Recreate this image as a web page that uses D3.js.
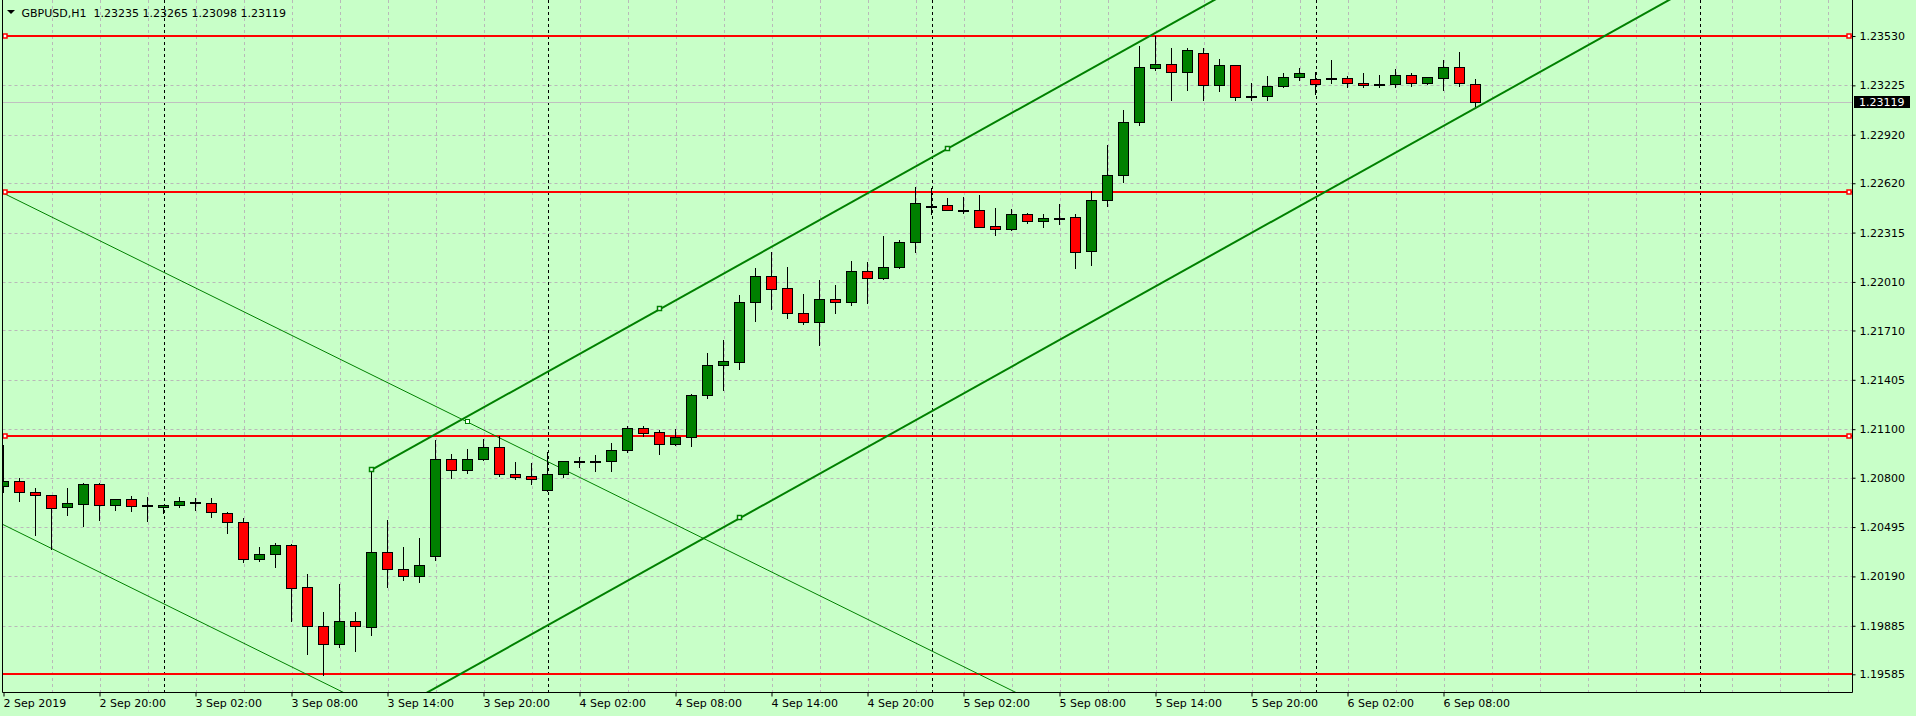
<!DOCTYPE html>
<html>
<head>
<meta charset="utf-8">
<script src="https://cdn.jsdelivr.net/npm/d3@7"></script>
<style>
  html, body { margin: 0; padding: 0; background: #c8ffc8; }
  svg { display: block; }
  text { font-family: "DejaVu Sans", sans-serif; font-size: 11px; fill: #000; }
</style>
</head>
<body>
<svg id="chart" width="1916" height="716"></svg>
<script>
// data
let titleText = "GBPUSD,H1  1.23235 1.23265 1.23098 1.23119"

let opens = [1.20747, 1.20778, 1.20710, 1.20691, 1.20617, 1.20636, 1.20759, 1.20630, 1.20667, 1.20631,
  1.20617, 1.20630, 1.20648, 1.20642, 1.20580, 1.20524, 1.20296, 1.20327, 1.20382, 1.20123,
  1.19882, 1.19770, 1.19913, 1.19876, 1.20339, 1.20234, 1.20191, 1.20314, 1.20914, 1.20846,
  1.20914, 1.20988, 1.20821, 1.20809, 1.20722, 1.20821, 1.20901, 1.20901, 1.20901, 1.20969,
  1.21105, 1.21081, 1.21007, 1.21050, 1.21309, 1.21495, 1.21513, 1.21884, 1.22045, 1.21971,
  1.21816, 1.21761, 1.21903, 1.21884, 1.22076, 1.22033, 1.22101, 1.22255, 1.22481, 1.22484,
  1.22455, 1.22453, 1.22353, 1.22339, 1.22428, 1.22389, 1.22405, 1.22410, 1.22203, 1.22515,
  1.22669, 1.22997, 1.23330, 1.23355, 1.23306, 1.23423, 1.23225, 1.23349, 1.23157, 1.23157,
  1.23219, 1.23275, 1.23262, 1.23269, 1.23269, 1.23238, 1.23232, 1.23232, 1.23287, 1.23238,
  1.23269, 1.23337, 1.23235]
let highs = [1.21002, 1.20796, 1.20735, 1.20693, 1.20735, 1.20766, 1.20766, 1.20669, 1.20685, 1.20679,
  1.20633, 1.20679, 1.20673, 1.20673, 1.20586, 1.20549, 1.20370, 1.20395, 1.20389, 1.20203,
  1.19968, 1.20141, 1.19968, 1.20848, 1.20537, 1.20370, 1.20426, 1.21031, 1.20947, 1.20978,
  1.21037, 1.21058, 1.20897, 1.20891, 1.20959, 1.20903, 1.20926, 1.20940, 1.21015, 1.21118,
  1.21118, 1.21093, 1.21099, 1.21316, 1.21569, 1.21651, 1.21929, 1.22094, 1.22193, 1.22101,
  1.21934, 1.22020, 1.21989, 1.22138, 1.22131, 1.22292, 1.22267, 1.22595, 1.22589, 1.22527,
  1.22533, 1.22545, 1.22465, 1.22459, 1.22434, 1.22428, 1.22490, 1.22428, 1.22570, 1.22855,
  1.23071, 1.23466, 1.23530, 1.23454, 1.23454, 1.23454, 1.23386, 1.23351, 1.23238, 1.23281,
  1.23300, 1.23330, 1.23308, 1.23382, 1.23281, 1.23301, 1.23289, 1.23326, 1.23300, 1.23276,
  1.23380, 1.23431, 1.23265]
let lows = [1.20714, 1.20658, 1.20446, 1.20358, 1.20571, 1.20503, 1.20541, 1.20602, 1.20596, 1.20534,
  1.20584, 1.20617, 1.20602, 1.20559, 1.20460, 1.20281, 1.20287, 1.20250, 1.19916, 1.19709,
  1.19581, 1.19752, 1.19727, 1.19826, 1.20126, 1.20166, 1.20157, 1.20290, 1.20800, 1.20827,
  1.20912, 1.20812, 1.20794, 1.20763, 1.20720, 1.20806, 1.20868, 1.20843, 1.20843, 1.20957,
  1.21056, 1.20945, 1.21005, 1.20994, 1.21291, 1.21344, 1.21474, 1.21770, 1.21845, 1.21785,
  1.21748, 1.21618, 1.21816, 1.21866, 1.21882, 1.22031, 1.22094, 1.22197, 1.22428, 1.22454,
  1.22438, 1.22348, 1.22302, 1.22333, 1.22376, 1.22351, 1.22368, 1.22098, 1.22117, 1.22481,
  1.22630, 1.22982, 1.23318, 1.23136, 1.23198, 1.23136, 1.23192, 1.23136, 1.23136, 1.23136,
  1.23217, 1.23261, 1.23170, 1.23241, 1.23213, 1.23213, 1.23213, 1.23213, 1.23219, 1.23232,
  1.23198, 1.23219, 1.23098]
let closes = [1.20778, 1.20710, 1.20691, 1.20611, 1.20642, 1.20759, 1.20630, 1.20667, 1.20623, 1.20631,
  1.20630, 1.20654, 1.20648, 1.20586, 1.20524, 1.20296, 1.20327, 1.20382, 1.20117, 1.19882,
  1.19770, 1.19913, 1.19882, 1.20339, 1.20234, 1.20191, 1.20259, 1.20914, 1.20846, 1.20914,
  1.20988, 1.20821, 1.20806, 1.20794, 1.20821, 1.20901, 1.20901, 1.20901, 1.20969, 1.21105,
  1.21075, 1.21007, 1.21050, 1.21309, 1.21495, 1.21520, 1.21884, 1.22045, 1.21964, 1.21816,
  1.21761, 1.21903, 1.21884, 1.22076, 1.22033, 1.22101, 1.22255, 1.22496, 1.22481, 1.22456,
  1.22455, 1.22351, 1.22339, 1.22428, 1.22389, 1.22403, 1.22405, 1.22197, 1.22515, 1.22669,
  1.22997, 1.23337, 1.23355, 1.23306, 1.23442, 1.23225, 1.23349, 1.23151, 1.23157, 1.23219,
  1.23275, 1.23300, 1.23232, 1.23269, 1.23238, 1.23225, 1.23232, 1.23287, 1.23238, 1.23275,
  1.23337, 1.23238, 1.23119]

let timeLabels = ["2 Sep 2019", "2 Sep 20:00", "3 Sep 02:00", "3 Sep 08:00", "3 Sep 14:00", "3 Sep 20:00",
  "4 Sep 02:00", "4 Sep 08:00", "4 Sep 14:00", "4 Sep 20:00", "5 Sep 02:00", "5 Sep 08:00",
  "5 Sep 14:00", "5 Sep 20:00", "6 Sep 02:00", "6 Sep 08:00"]
let timeTickBars = [0, 6, 12, 18, 24, 30, 36, 42, 48, 54, 60, 66, 72, 78, 84, 90]
let daySeparatorBars = [10, 34, 58, 82, 106]
let priceTicks = [1.23530, 1.23225, 1.22920, 1.22620, 1.22315, 1.22010, 1.21710,
  1.21405, 1.21100, 1.20800, 1.20495, 1.20190, 1.19885, 1.19585]

let levelPrices = [1.23530, 1.22564, 1.21058, 1.19585]
let levelHasMarker = [true, true, true, false]
let bidPrice = 1.23119

// equidistant channel: two points on the main line + one point on the parallel
let channelMain = [[23, 1.20848], [59, 1.22833]]
let channelThird = [46, 1.20549]
let channelMarkers = [[23, 1.20848], [41, 1.21841], [59, 1.22833], [46, 1.20549]]
// thin descending lines
let thinUpper = [[0, 1.22558], [29, 1.21144]]
let thinLowerStart = [0, 1.20509]

// layout
let plotLeft = 2.5, plotRight = 1852.5, plotTop = 0, plotBottom = 692.5
let green = '#008000', red = '#ff0000'

let svg = d3.select('#chart')

let x = d3.scaleLinear().domain([0, 1]).range([3.5, 19.5])
let y = d3.scaleLinear().domain([1.19585, 1.23530]).range([674.3, 36])
let crisp = v => Math.round(v) + 0.5

svg.append('clipPath').attr('id', 'plot-clip')
  .append('rect')
  .attr('x', plotLeft + 0.5).attr('y', plotTop)
  .attr('width', plotRight - plotLeft - 1).attr('height', plotBottom - plotTop - 0.5)

let plot = svg.append('g').attr('clip-path', 'url(#plot-clip)')

// grid
let gridBars = d3.range(3, 116, 3)
plot.selectAll('.vgrid').data(gridBars).enter().append('line')
  .attr('x1', d => crisp(x(d))).attr('x2', d => crisp(x(d)))
  .attr('y1', plotTop).attr('y2', plotBottom)
  .style('stroke', '#b9b9b9').style('stroke-dasharray', '3,3')

plot.selectAll('.hgrid').data(priceTicks).enter().append('line')
  .attr('x1', plotLeft).attr('x2', plotRight)
  .attr('y1', d => crisp(y(d))).attr('y2', d => crisp(y(d)))
  .style('stroke', '#b9b9b9').style('stroke-dasharray', '3,3')

plot.selectAll('.daysep').data(daySeparatorBars).enter().append('line')
  .attr('x1', d => crisp(x(d))).attr('x2', d => crisp(x(d)))
  .attr('y1', plotTop).attr('y2', plotBottom)
  .style('stroke', '#000').style('stroke-dasharray', '3,3')

// bid line
plot.append('line')
  .attr('x1', plotLeft).attr('x2', plotRight)
  .attr('y1', crisp(y(bidPrice))).attr('y2', crisp(y(bidPrice)))
  .style('stroke', '#c0c0c0')

// horizontal levels
plot.selectAll('.level').data(levelPrices).enter().append('line')
  .attr('x1', plotLeft).attr('x2', plotRight)
  .attr('y1', d => Math.round(y(d))).attr('y2', d => Math.round(y(d)))
  .style('stroke', red).style('stroke-width', 2)

// trend lines, extended along their slope
let lineAt = (p1, p2, i) => p1[1] + (p2[1] - p1[1]) * (i - p1[0]) / (p2[0] - p1[0])
let path = d3.line().x(d => x(d[0])).y(d => y(d[1]))

let chSlope = (channelMain[1][1] - channelMain[0][1]) / (channelMain[1][0] - channelMain[0][0])
let chEnd = 140
let upperCh = [channelMain[0], [chEnd, lineAt(channelMain[0], channelMain[1], chEnd)]]
let lowerCh = [[channelMain[0][0], channelThird[1] + chSlope * (channelMain[0][0] - channelThird[0])],
  [chEnd, channelThird[1] + chSlope * (chEnd - channelThird[0])]]

let thinSlope = (thinUpper[1][1] - thinUpper[0][1]) / (thinUpper[1][0] - thinUpper[0][0])
let thinA = [[-2, lineAt(thinUpper[0], thinUpper[1], -2)], [80, lineAt(thinUpper[0], thinUpper[1], 80)]]
let thinB = [[-2, thinLowerStart[1] + thinSlope * -2], [40, thinLowerStart[1] + thinSlope * 40]]

;[thinA, thinB].forEach(l => {
  plot.append('path').attr('d', path(l))
    .style('fill', 'none').style('stroke', green).style('stroke-width', 1)
})
;[upperCh, lowerCh].forEach(l => {
  plot.append('path').attr('d', path(l))
    .style('fill', 'none').style('stroke', green).style('stroke-width', 2)
})

// candles
let bars = d3.range(opens.length)
let g = plot.append('g')

g.selectAll('.wick').data(bars).enter().append('line')
  .attr('x1', i => x(i)).attr('x2', i => x(i))
  .attr('y1', i => Math.round(y(highs[i]))).attr('y2', i => Math.round(y(lows[i])) + 1)
  .style('stroke', '#000')

g.selectAll('.body').data(bars).enter().append('rect')
  .attr('x', i => x(i) - 5)
  .attr('y', i => crisp(y(Math.max(opens[i], closes[i]))))
  .attr('width', 10)
  .attr('height', i => Math.max(1, Math.round(y(Math.min(opens[i], closes[i]))) - Math.round(y(Math.max(opens[i], closes[i])))))
  .style('fill', i => closes[i] > opens[i] ? green : (closes[i] < opens[i] ? red : '#000'))
  .style('stroke', '#000')

// markers
plot.selectAll('.chmark').data(channelMarkers).enter().append('rect')
  .attr('x', d => Math.round(x(d[0])) - 2.5).attr('y', d => Math.round(y(d[1])) - 2.5)
  .attr('width', 4).attr('height', 4)
  .style('fill', '#fff').style('stroke', green).style('stroke-width', 1.5)

plot.append('rect')
  .attr('x', Math.round(x(thinUpper[1][0])) - 2.5).attr('y', Math.round(y(thinUpper[1][1])) - 2.5)
  .attr('width', 4).attr('height', 4)
  .style('fill', '#fff').style('stroke', green).style('stroke-width', 1)

let markedLevels = levelPrices.filter((d, i) => levelHasMarker[i])
;[5, 1849].forEach(mx => {
  plot.selectAll(null).data(markedLevels).enter().append('rect')
    .attr('x', mx - 2).attr('y', d => Math.round(y(d)) - 2)
    .attr('width', 4).attr('height', 4)
    .style('fill', '#fff').style('stroke', red).style('stroke-width', 1.5)
})

// frame (left, bottom, right)
svg.append('path')
  .attr('d', `M${plotLeft},${plotTop}V${plotBottom}H${plotRight}V${plotTop}`)
  .style('fill', 'none').style('stroke', '#000')

// price axis
let yAxis = svg.append('g')
  .attr('transform', `translate(${plotRight},0)`)
  .call(d3.axisRight(y).tickValues(priceTicks).tickFormat(d3.format('.5f')).tickSize(3).tickPadding(4))
yAxis.select('.domain').remove()
yAxis.selectAll('text').style('font-family', '"DejaVu Sans", sans-serif').style('font-size', '11px')

// time axis
let xAxis = svg.append('g')
  .attr('transform', `translate(0,${plotBottom})`)
  .call(d3.axisBottom(x).tickValues(timeTickBars).tickFormat((d, i) => timeLabels[i]).tickSize(4))
xAxis.select('.domain').remove()
xAxis.selectAll('text')
  .attr('text-anchor', 'start').attr('x', -0.5)
  .style('font-family', '"DejaVu Sans", sans-serif').style('font-size', '11px')

// bid label
let bidY = Math.round(y(bidPrice))
svg.append('rect')
  .attr('x', 1854).attr('y', bidY - 6).attr('width', 56).attr('height', 12)
  .style('fill', '#000')
svg.append('text')
  .attr('x', 1859).attr('y', bidY).attr('dy', '0.34em')
  .style('fill', '#fff')
  .text(d3.format('.5f')(bidPrice))

// title
svg.append('path').attr('d', 'M7,10H15L11,14Z').style('fill', '#000')
svg.append('text').attr('x', 21.5).attr('y', 17).style('white-space', 'pre').text(titleText)
</script>
</body>
</html>
